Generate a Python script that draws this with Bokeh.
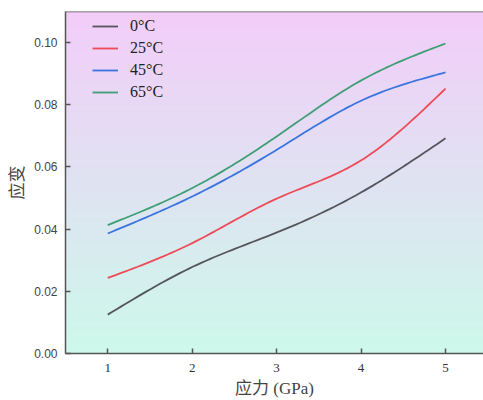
import numpy as np
from bokeh.plotting import figure
from bokeh.models import Range1d, Legend, LegendItem, FixedTicker, NumeralTickFormatter, Span
from bokeh.embed import file_html
from bokeh.resources import INLINE

# ---- data ----
stress = [1, 2, 3, 4, 5]
strain_0 = [0.0125, 0.0278, 0.0389, 0.0518, 0.0692]
strain_25 = [0.0243, 0.0355, 0.0498, 0.0621, 0.0852]
strain_45 = [0.0386, 0.0505, 0.0655, 0.0813, 0.0904]
strain_65 = [0.0413, 0.0532, 0.0698, 0.0878, 0.0997]
series_labels = ["0°C", "25°C", "45°C", "65°C"]
x_ticks = [1, 2, 3, 4, 5]
y_ticks = [0.0, 0.02, 0.04, 0.06, 0.08, 0.10]

colors = ["#55565b", "#ee4b57", "#3a74e0", "#3f9e74"]


def natural_spline(xs, ys, n=80):
    """Smooth natural cubic spline through the given points (rendering only)."""
    x = np.asarray(xs, dtype=float)
    y = np.asarray(ys, dtype=float)
    k = len(x)
    h = np.diff(x)
    A = np.zeros((k, k))
    b = np.zeros(k)
    A[0, 0] = 1.0
    A[-1, -1] = 1.0
    for i in range(1, k - 1):
        A[i, i - 1] = h[i - 1]
        A[i, i] = 2 * (h[i - 1] + h[i])
        A[i, i + 1] = h[i]
        b[i] = 6 * ((y[i + 1] - y[i]) / h[i] - (y[i] - y[i - 1]) / h[i - 1])
    M = np.linalg.solve(A, b)
    xx = np.linspace(x[0], x[-1], n)
    yy = np.empty_like(xx)
    for j, t in enumerate(xx):
        i = min(np.searchsorted(x, t, side="right") - 1, k - 2)
        dx1 = x[i + 1] - t
        dx0 = t - x[i]
        hi = h[i]
        yy[j] = (M[i] * dx1 ** 3 / (6 * hi) + M[i + 1] * dx0 ** 3 / (6 * hi)
                 + (y[i] / hi - M[i] * hi / 6) * dx1
                 + (y[i + 1] / hi - M[i + 1] * hi / 6) * dx0)
    return xx, yy


X0, X1 = 0.5, 5.45
Y0, Y1 = 0.0, 0.11

p = figure(width=483, height=400, output_backend="svg", toolbar_location=None,
           x_range=Range1d(X0, X1), y_range=Range1d(Y0, Y1),
           min_border_left=65, min_border_right=0, min_border_top=11, min_border_bottom=47)

# vertical gradient background (pink at top -> mint at bottom)
top = np.array([243, 205, 249], dtype=float)
bot = np.array([205, 249, 235], dtype=float)
N = 200
tt = np.linspace(0, 1, N)[:, None]
rgb = (bot * (1 - tt) + top * tt).astype(np.uint32)
img = np.empty((N, 1), dtype=np.uint32)
view = img.view(dtype=np.uint8).reshape((N, 1, 4))
view[:, 0, 0] = rgb[:, 0]
view[:, 0, 1] = rgb[:, 1]
view[:, 0, 2] = rgb[:, 2]
view[:, 0, 3] = 255
p.image_rgba(image=[img], x=X0, y=Y0, dw=X1 - X0, dh=Y1 - Y0)

items = []
for ys, lab, col in zip([strain_0, strain_25, strain_45, strain_65], series_labels, colors):
    sx, sy = natural_spline(stress, ys)
    r = p.line(sx, sy, line_color=col, line_width=1.8)
    items.append(LegendItem(label=lab, renderers=[r]))

legend = Legend(items=items, location=(27, 251), background_fill_alpha=0,
                border_line_alpha=0, padding=0, margin=0, spacing=2,
                glyph_width=26, glyph_height=20, label_standoff=12,
                label_text_font="Liberation Serif", label_text_font_size="16px",
                label_text_color="#222222")
p.add_layout(legend)

p.xgrid.visible = False
p.ygrid.visible = False
p.outline_line_color = None
p.add_layout(Span(location=Y1, dimension="width", line_color="#555555", line_width=1.5))

p.xaxis.ticker = FixedTicker(ticks=x_ticks)
p.yaxis.ticker = FixedTicker(ticks=y_ticks)
p.yaxis.formatter = NumeralTickFormatter(format="0.00")

for ax in (p.xaxis[0], p.yaxis[0]):
    ax.major_tick_in = 5
    ax.major_tick_out = 0
    ax.minor_tick_line_color = None
    ax.axis_line_color = "#555555"
    ax.axis_line_width = 1.5
    ax.major_tick_line_color = "#555555"
    ax.major_tick_line_width = 1.5
    ax.axis_label_text_font_style = "normal"
    ax.axis_label_text_color = "#444444"
    ax.axis_label_text_font_size = "17px"
    ax.axis_label_text_font = "Liberation Serif, Noto Sans CJK SC"

p.xaxis.axis_label = "应力 (GPa)"
p.yaxis.axis_label = "应变"
p.xaxis.major_label_text_font = "Liberation Serif"
p.xaxis.major_label_text_font_size = "13px"
p.xaxis.major_label_text_color = "#333333"
p.xaxis.major_label_standoff = 10
p.xaxis.axis_label_standoff = 4
p.yaxis.major_label_text_font = "Liberation Sans"
p.yaxis.major_label_text_font_size = "12px"
p.yaxis.major_label_text_color = "#444444"
p.yaxis.major_label_standoff = 8
p.yaxis.axis_label_standoff = 4

open("out.html", "w").write(file_html(p, INLINE))
